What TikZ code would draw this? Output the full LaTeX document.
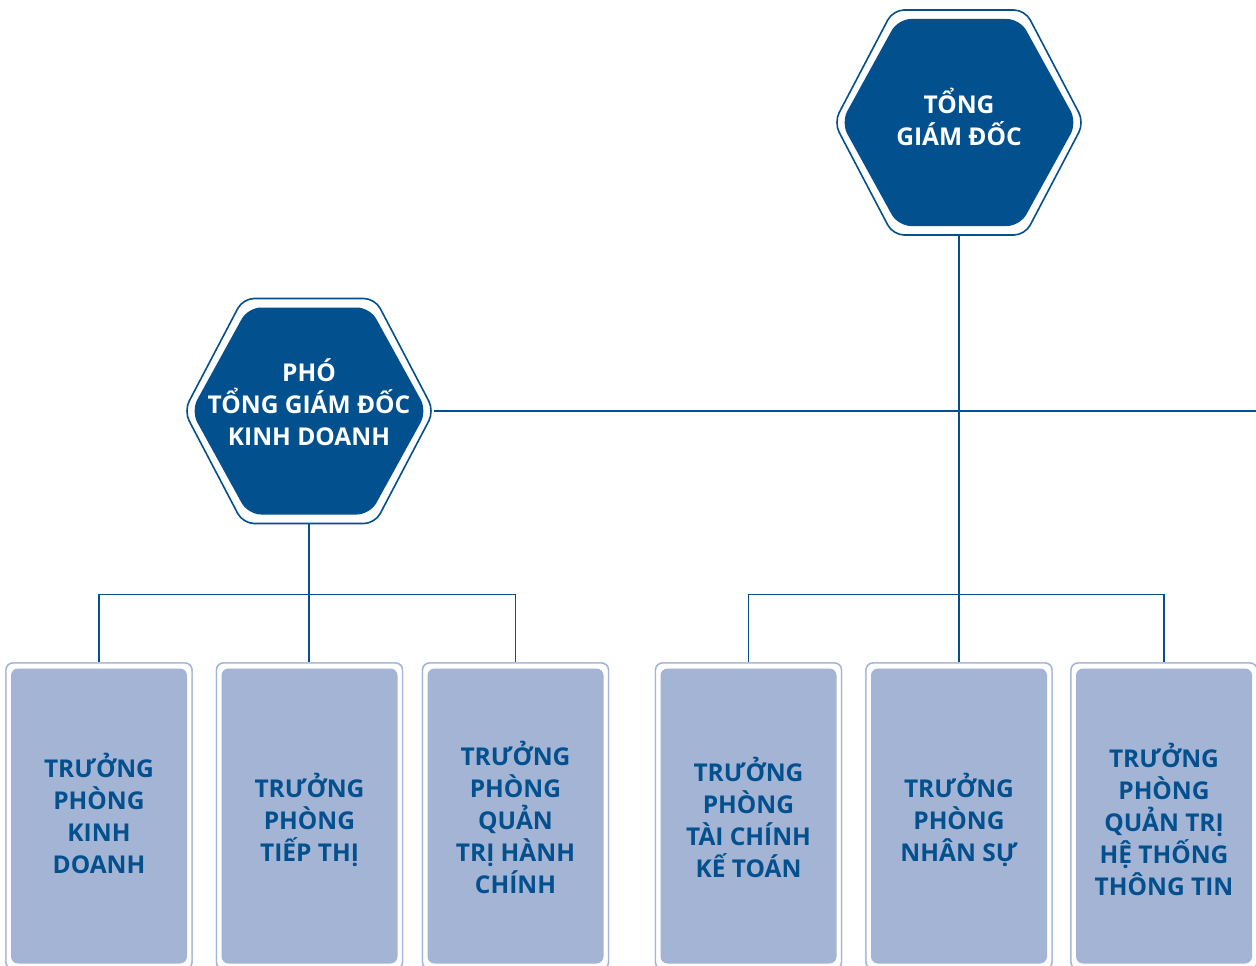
\documentclass[tikz,border=0pt]{standalone}
\usepackage{fontspec}
\setmainfont{Open Sans}
\usetikzlibrary{calc}

\definecolor{navy}{HTML}{03508F}
\definecolor{boxfill}{HTML}{A4B4D4}
\definecolor{boxline}{HTML}{A3B4DA}

\tikzset{
  hexnode/.style={minimum width=250pt, minimum height=225pt, inner sep=0pt,
    align=center, text=white,
    font=\fontsize{24.5}{32}\selectfont\bfseries},
  hexouter/.style={draw=navy, line width=1.6pt, fill=white, rounded corners=11pt},
  hexinner/.style={fill=navy, rounded corners=13pt},
  boxouter/.style={draw=boxline, line width=1.4pt, fill=white, rounded corners=7pt,
    minimum width=186pt, minimum height=306pt, inner sep=0pt},
  boxinner/.style={fill=boxfill, rounded corners=7pt,
    minimum width=176pt, minimum height=295pt, inner sep=0pt,
    align=center, text=navy,
    font=\fontsize{24.5}{32}\selectfont\bfseries},
  boxtext/.style={inner sep=0pt, align=center, text=navy,
    font=\fontsize{24.5}{32}\selectfont\bfseries},
  link/.style={draw=navy, line width=1.5pt}
}

% outline and filled body of a flat-topped hexagon around a node
\newcommand\hexbody[1]{%
  \path[hexouter, shift={(#1.center)}]
    (-125,0) -- (-66,-112.5) -- (66,-112.5) -- (125,0) -- (66,112.5) -- (-66,112.5) -- cycle;
  \path[hexinner, shift={(#1.center)}]
    (-118,0) -- (-61,-103.5) -- (61,-103.5) -- (118,0) -- (61,103.5) -- (-61,103.5) -- cycle;
}

\begin{document}
\begin{tikzpicture}[x=1pt, y=-1pt]
\useasboundingbox (0,0) rectangle (1256,966);
\clip (0,0) rectangle (1256,966);

% anchor frames for the two executives and the six departments
\path (959,122.5) node[hexnode] (gd) {};
\path (309,411) node[hexnode] (pho) {};
\path (99,816) node[boxouter] (b1) {};
\path (309.5,816) node[boxouter] (b2) {};
\path (515.5,816) node[boxouter] (b3) {};
\path (748.5,816) node[boxouter] (b4) {};
\path (959,816) node[boxouter] (b5) {};
\path (1164,816) node[boxouter] (b6) {};
\coordinate (edgeR) at (1256,411);

% connectors
\draw[link] (gd.south) -- (gd.south |- b5.north);
\draw[link] (pho.east) -- (edgeR);
\draw[link] (pho.south) -- (pho.south |- b2.north);
\draw[link] (b1.north) -- ++(0,-68) -| (b3.north);
\draw[link] (b4.north) -- ++(0,-68) -| (b6.north);

% hexagons with their titles
\hexbody{gd}
\node[hexnode, yshift=6pt] at (gd.center) {TỔNG\\GIÁM ĐỐC};
\hexbody{pho}
\node[hexnode, yshift=9pt] at (pho.center) {PHÓ\\TỔNG GIÁM ĐỐC\\KINH DOANH};

% department boxes
\foreach \b in {b1,b2,b3,b4,b5,b6}{
  \node[boxouter] at (\b.center) {};
  \node[boxinner] at (\b.center) {};
}
\node[boxtext, yshift=3pt]  at (b1.center) {TRƯỞNG\\PHÒNG\\KINH\\DOANH};
\node[boxtext, yshift=-4pt] at (b2.center) {TRƯỞNG\\PHÒNG\\TIẾP THỊ};
\node[boxtext, yshift=-1pt] at (b3.center) {TRƯỞNG\\PHÒNG\\QUẢN\\TRỊ HÀNH\\CHÍNH};
\node[boxtext, yshift=-1pt] at (b4.center) {TRƯỞNG\\PHÒNG\\TÀI CHÍNH\\KẾ TOÁN};
\node[boxtext, yshift=-4pt] at (b5.center) {TRƯỞNG\\PHÒNG\\NHÂN SỰ};
\node[boxtext, yshift=-3pt] at (b6.center) {TRƯỞNG\\PHÒNG\\QUẢN TRỊ\\HỆ THỐNG\\THÔNG TIN};
\end{tikzpicture}
\end{document}
